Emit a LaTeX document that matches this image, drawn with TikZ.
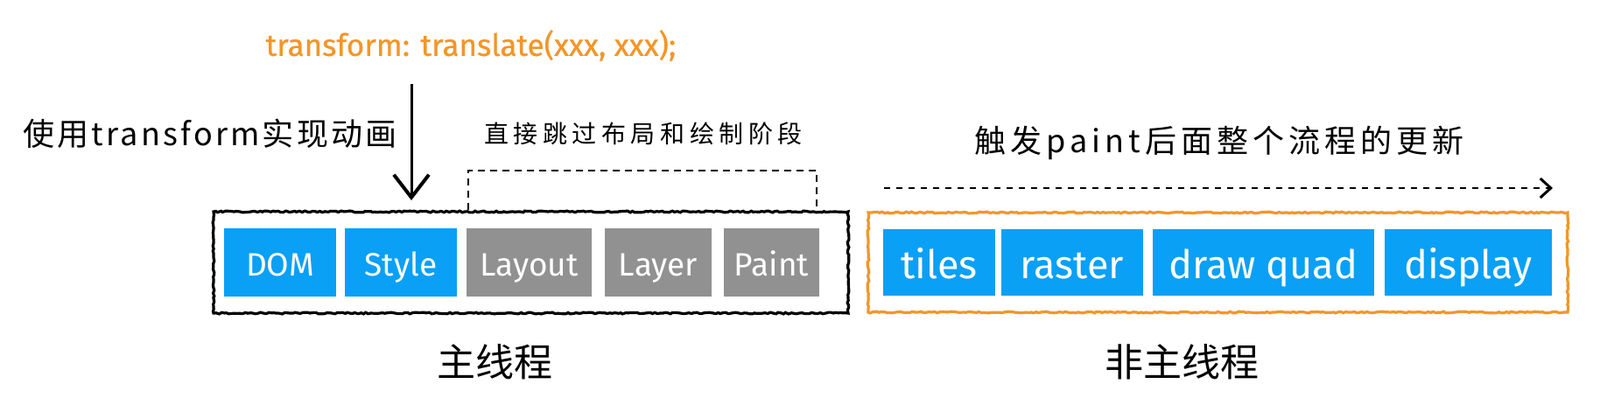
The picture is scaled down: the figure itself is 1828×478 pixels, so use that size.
\documentclass[tikz,border=0pt]{standalone}
\usepackage{fontspec}
\setmainfont{Noto Sans CJK SC}
\newfontfamily\latinf{Fira Sans}
\newfontfamily\codef[FakeBold=0.6]{Fira Sans}
\newfontfamily\handa[LetterSpace=9]{Noto Sans CJK SC}
\newfontfamily\handb[LetterSpace=20]{Noto Sans CJK SC}
\newfontfamily\handc[LetterSpace=14]{Noto Sans CJK SC}
\usetikzlibrary{arrows.meta,decorations.pathmorphing}
\definecolor{boxblue}{RGB}{10,160,245}
\definecolor{boxgray}{RGB}{145,145,145}
\definecolor{orng}{RGB}{243,150,40}
\tikzset{
  x=0.5pt,y=-0.5pt,
  stage/.style={fill=#1,text=white,inner sep=0pt,minimum height=39pt,text height=18pt,text depth=3pt,font=\latinf\fontsize{18.5}{20}\selectfont},
  rstage/.style={fill=boxblue,text=white,inner sep=0pt,minimum height=38pt,text height=21pt,text depth=3pt,font=\latinf\fontsize{22.5}{24}\selectfont},
  sketch/.style={draw=#1,line width=1.6pt,decorate,decoration={random steps,segment length=1.5pt,amplitude=0.45pt}},
  lbl/.style={inner sep=0pt}
}
\begin{document}
\begin{tikzpicture}
\useasboundingbox[fill=white] (0,0) rectangle (1828,478);
% main thread frame
\draw[sketch=black] (244,242) rectangle (969,358);
\node[inner sep=0pt,minimum width=362.5pt,minimum height=58pt] (mainf) at (606.5,300) {};
% stages
\node[stage=boxblue,minimum width=64pt] (dom) at (320,300) {DOM};
\node[stage=boxblue,minimum width=64pt] (style) at (458,300) {Style};
\node[stage=boxgray,minimum width=71.5pt] (layout) at (604.5,300) {Layout};
\node[stage=boxgray,minimum width=61pt] (layer) at (752,300) {Layer};
\node[stage=boxgray,minimum width=54.5pt] (paint) at (881.5,300) {Paint};
% non-main frame
\draw[sketch=orng] (992,243) rectangle (1791,357);
\node[inner sep=0pt,minimum width=399.5pt,minimum height=57pt] (nonf) at (1391.5,300) {};
\node[rstage,minimum width=64pt] (tiles) at (1073,300) {tiles};
\node[rstage,minimum width=81pt] (raster) at (1225,300) {raster};
\node[rstage,minimum width=126.5pt] (quad) at (1443.5,300) {draw quad};
\node[rstage,minimum width=95.5pt] (disp) at (1677.5,300) {display};
% texts
\node[lbl,text=orng,font=\codef\fontsize{17.5}{18}\selectfont] (code) at (538,52) {transform: translate(xxx, xxx);};
\node[lbl,font=\handa\fontsize{18}{18}\selectfont] (left) at (240,153) {使用transform实现动画};
\node[lbl,font=\handb\fontsize{14}{14}\selectfont] (mid) at (735,153) {直接跳过布局和绘制阶段};
\node[lbl,font=\handc\fontsize{18}{18}\selectfont] (right) at (1393,163) {触发paint后面整个流程的更新};
\node[lbl,font=\fontsize{22}{22}\selectfont] (mt) at (565,414) {主线程};
\node[lbl,font=\fontsize{22}{22}\selectfont] (nmt) at (1350,414) {非主线程};
% vertical arrow
\coordinate (as) at (470,96);
\coordinate (ae) at (470,229);
\draw[line width=1.5pt,-{Straight Barb[length=13pt,width=20pt,line width=2pt]}] (as) -- (ae);
% dashed bracket
\coordinate (bl) at (535,240);
\coordinate (br) at (933,240);
\draw[line width=1.3pt,dash pattern=on 4pt off 3pt] (bl) -- (535,195) -- (933,195) -- (br);
% dashed arrow
\coordinate (ds) at (1010,215);
\coordinate (de) at (1774,215);
\draw[line width=1.4pt,dash pattern=on 3.5pt off 3.5pt,-{Straight Barb[length=6pt,width=11pt,line width=1.5pt]}] (ds) -- (de);
\end{tikzpicture}
\end{document}
